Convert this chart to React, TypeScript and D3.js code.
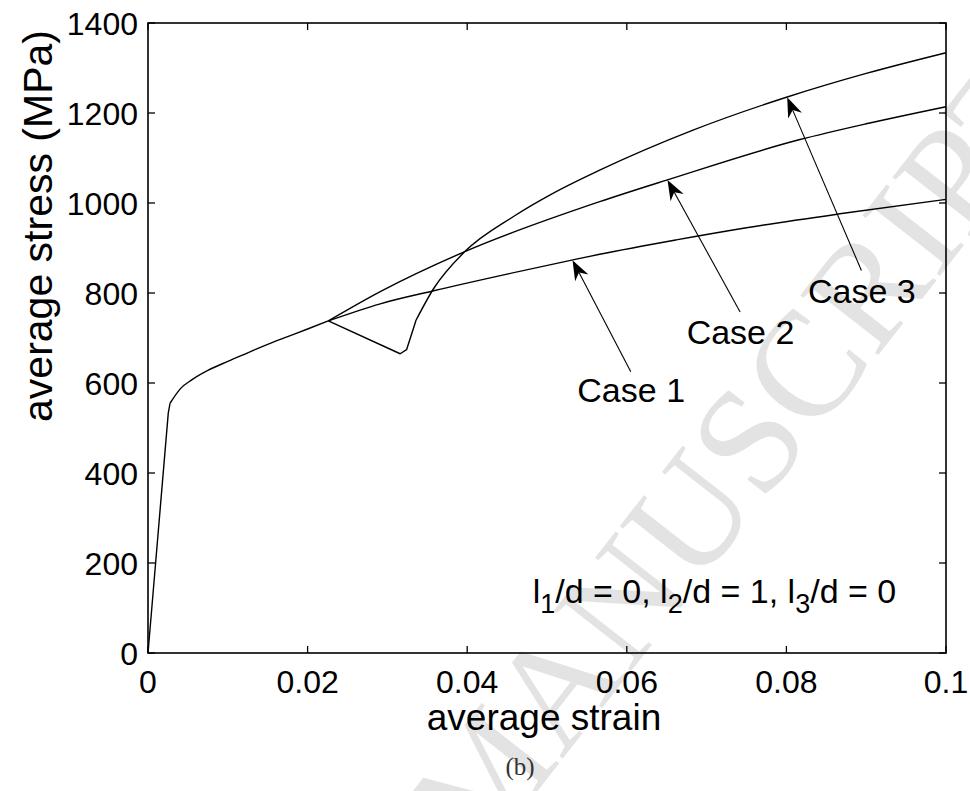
import React from "react";
import * as d3 from "d3";

const commonStrain = [0, 0.00254, 0.00276, 0.0041, 0.00548, 0.0075, 0.01, 0.0125, 0.015, 0.0175, 0.02, 0.0226];
const commonStress = [0, 533, 555, 588, 607, 628, 648, 667, 686, 703, 720, 738];

const case1Strain = [0.0226, 0.0291, 0.0358, 0.045, 0.0531, 0.0566, 0.0662, 0.075, 0.0867, 0.1];
const case1Stress = [738, 776, 805, 842, 873, 886, 918, 945, 976, 1008];

const case2Strain = [0.0226, 0.0291, 0.0397, 0.0566, 0.065, 0.0817, 0.09, 0.1];
const case2Stress = [738, 803, 892, 1003, 1051, 1141, 1176, 1214];

const case3Strain = [0.0226, 0.0316, 0.0324, 0.0336, 0.0358, 0.0397, 0.0458, 0.0508, 0.0566, 0.0683, 0.08, 0.09, 0.1];
const case3Stress = [738, 665, 674, 740, 810, 892, 970, 1022, 1073, 1162, 1235, 1288, 1334];
const case3SmoothFrom = 3;

const xTicks = [0, 0.02, 0.04, 0.06, 0.08, 0.1];
const xTickLabels = ["0", "0.02", "0.04", "0.06", "0.08", "0.1"];
const yTicks = [0, 200, 400, 600, 800, 1000, 1200, 1400];
const yTickLabels = ["0", "200", "400", "600", "800", "1000", "1200", "1400"];

const caseLabels = ["Case 1", "Case 2", "Case 3"];
const arrowTip = [[0.0532, 873], [0.0651, 1051], [0.0801, 1235]];
const arrowTail = [[0.0605, 625], [0.0742, 758], [0.0894, 850]];
const labelPos = [[0.0538, 557], [0.0675, 687], [0.0827, 778]];

const W = 970, H = 791;
const M = { left: 148, right: 946, top: 23, bottom: 653 };
const FONT = "'Liberation Sans', Arial, sans-serif";

type P = [number, number];

export default function App() {
  const x = d3.scaleLinear().domain([0, 0.1]).range([M.left, M.right]);
  const y = d3.scaleLinear().domain([0, 1400]).range([M.bottom, M.top]);
  const smooth = d3.line<P>().x(d => x(d[0])).y(d => y(d[1])).curve(d3.curveMonotoneX);
  const straight = d3.line<P>().x(d => x(d[0])).y(d => y(d[1]));

  const common = commonStrain.map((s, i) => [s, commonStress[i]] as P);
  const c1 = case1Strain.map((s, i) => [s, case1Stress[i]] as P);
  const c2 = case2Strain.map((s, i) => [s, case2Stress[i]] as P);
  const c3 = case3Strain.map((s, i) => [s, case3Stress[i]] as P);

  const paths = [
    straight(common.slice(0, 3)),
    smooth(common.slice(2)),
    smooth(c1),
    smooth(c2),
    straight(c3.slice(0, case3SmoothFrom + 1)),
    smooth(c3.slice(case3SmoothFrom)),
  ];

  const arrows = caseLabels.map((_, i) => {
    const tx = x(arrowTip[i][0]), ty = y(arrowTip[i][1]);
    const sx = x(arrowTail[i][0]), sy = y(arrowTail[i][1]);
    const dx = tx - sx, dy = ty - sy;
    const len = Math.hypot(dx, dy);
    const ux = dx / len, uy = dy / len;
    const px = -uy, py = ux;
    const L = 20, Wd = 7.5, N = 14;
    const bx = tx - L * ux, by = ty - L * uy;
    const nx = tx - N * ux, ny = ty - N * uy;
    const head = `M${tx},${ty}L${bx + Wd * px},${by + Wd * py}L${nx},${ny}L${bx - Wd * px},${by - Wd * py}Z`;
    return { sx, sy, nx, ny, head };
  });

  const tickLen = 7;

  return (
    <svg width={W} height={H} style={{ position: "absolute", left: 0, top: 0, background: "#fff" }}>
      <rect x={0} y={0} width={W} height={H} fill="#fff" />
      {/* watermark */}
      <text x={1075} y={103} transform="rotate(-52 1075 103)" textAnchor="end"
        fontFamily="'Liberation Serif', 'Times New Roman', serif" fontSize={150} fill="#e3e3e3">
        ACCEPTED MANUSCRIPT
      </text>

      {/* curves */}
      {paths.map((d, i) => (
        <path key={i} d={d || ""} fill="none" stroke="#000" strokeWidth={1.4} strokeLinejoin="round" />
      ))}

      {/* arrows */}
      {arrows.map((a, i) => (
        <g key={i}>
          <line x1={a.sx} y1={a.sy} x2={a.nx} y2={a.ny} stroke="#000" strokeWidth={1.1} />
          <path d={a.head} fill="#000" />
        </g>
      ))}

      {/* case labels */}
      {caseLabels.map((t, i) => (
        <text key={t} x={x(labelPos[i][0])} y={y(labelPos[i][1])} fontFamily={FONT} fontSize={34} fill="#000">{t}</text>
      ))}

      {/* annotation */}
      <text x={x(0.0482)} y={y(111)} fontFamily={FONT} fontSize={34} fill="#000">
        l<tspan fontSize={27} dy={10}>1</tspan><tspan dy={-10}>/d = 0, l</tspan><tspan fontSize={27} dy={10}>2</tspan><tspan dy={-10}>/d = 1, l</tspan><tspan fontSize={27} dy={10}>3</tspan><tspan dy={-10}>/d = 0</tspan>
      </text>

      {/* box */}
      <rect x={M.left} y={M.top} width={M.right - M.left} height={M.bottom - M.top} fill="none" stroke="#000" strokeWidth={1.6} />

      {/* ticks */}
      {xTicks.map((t, i) => (
        <g key={"x" + i}>
          <line x1={x(t)} x2={x(t)} y1={M.bottom} y2={M.bottom - tickLen} stroke="#000" strokeWidth={1.3} />
          <line x1={x(t)} x2={x(t)} y1={M.top} y2={M.top + tickLen} stroke="#000" strokeWidth={1.3} />
          <text x={x(t)} y={692.5} textAnchor="middle" fontFamily={FONT} fontSize={32}>{xTickLabels[i]}</text>
        </g>
      ))}
      {yTicks.map((t, i) => (
        <g key={"y" + i}>
          <line x1={M.left} x2={M.left + tickLen} y1={y(t)} y2={y(t)} stroke="#000" strokeWidth={1.3} />
          <line x1={M.right} x2={M.right - tickLen} y1={y(t)} y2={y(t)} stroke="#000" strokeWidth={1.3} />
          <text x={138} y={y(t) + 11.5} textAnchor="end" fontFamily={FONT} fontSize={32}>{yTickLabels[i]}</text>
        </g>
      ))}

      {/* axis labels */}
      <text x={544} y={730} textAnchor="middle" fontFamily={FONT} fontSize={37}>average strain</text>
      <text transform="translate(52, 226) rotate(-90)" textAnchor="middle" fontFamily={FONT} fontSize={41}>average stress (MPa)</text>

      {/* caption */}
      <text x={520} y={775} textAnchor="middle" fontFamily="'Liberation Serif', 'Times New Roman', serif" fontSize={25} fill="#333">(b)</text>
    </svg>
  );
}
